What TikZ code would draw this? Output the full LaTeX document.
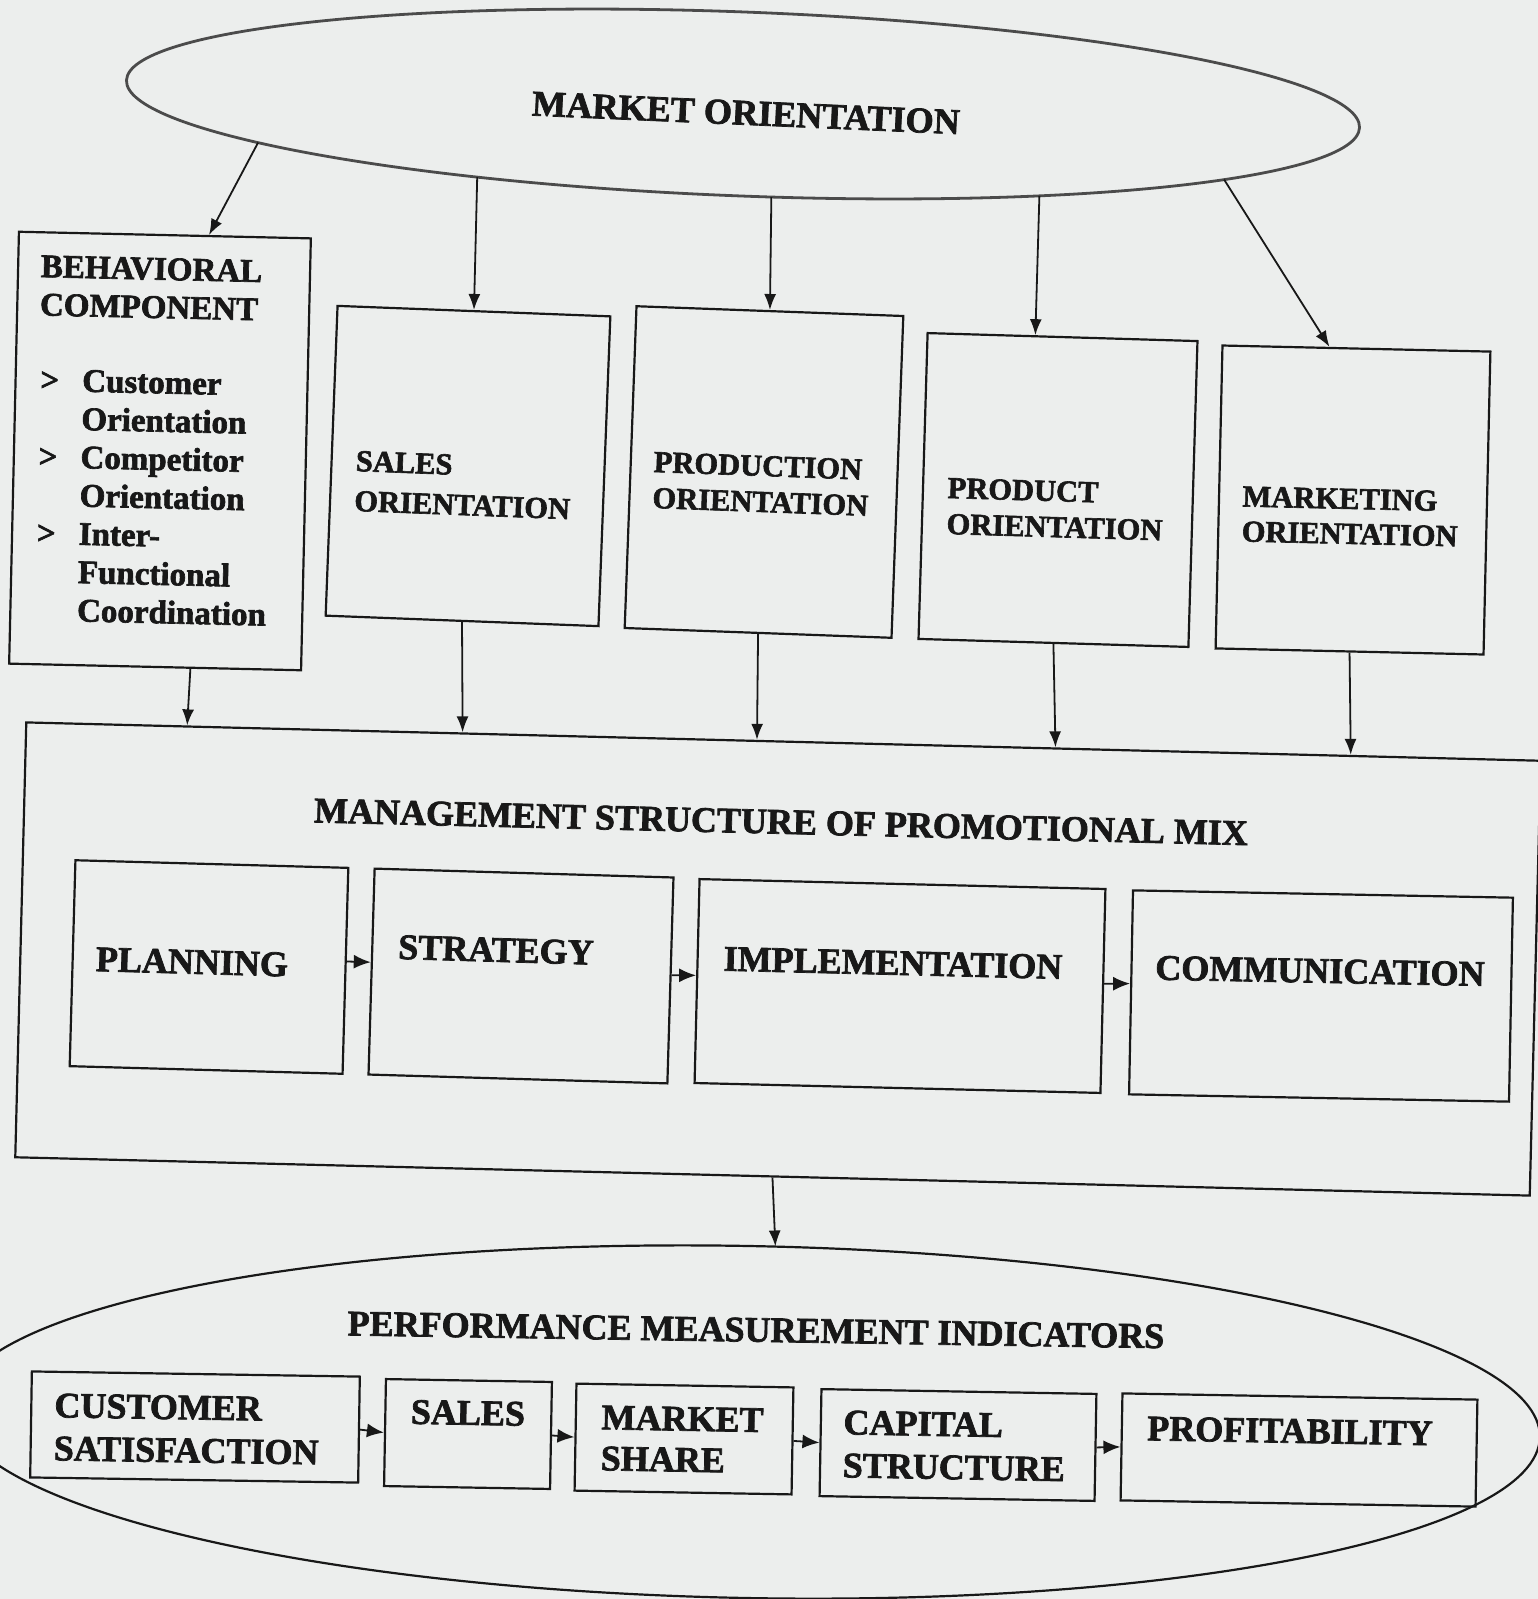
\documentclass[tikz,border=0pt]{standalone}
\usepackage{fontspec}
\setmainfont{Liberation Serif}[BoldFeatures={FakeBold=2}]
\usetikzlibrary{calc,arrows.meta,shapes.geometric}
\definecolor{paper}{RGB}{236,238,237}
\definecolor{ink}{RGB}{24,24,24}
\definecolor{ellcol}{RGB}{75,75,75}
\tikzset{
  box/.style={draw=ink, line width=2.2pt, rectangle, inner sep=0pt},
  oval/.style={draw=ellcol, ellipse, inner sep=0pt},
  lbl/.style={inner sep=0pt, text=ink, align=left},
  fA/.style={font=\fontsize{36.2}{42}\selectfont\bfseries},
  fB/.style={font=\fontsize{33}{38.3}\selectfont\bfseries},
  fC/.style={font=\fontsize{30.5}{#1}\selectfont\bfseries},
  fD/.style={font=\fontsize{36}{#1}\selectfont\bfseries},
  arr/.style={draw=ink, line width=1.8pt, -{Latex[length=16pt,width=12pt]}},
  sarr/.style={draw=ink, line width=1.8pt, -{Latex[length=17pt,width=14pt]}}
}
\newcommand{\bul}{\makebox[44pt][l]{\hspace*{2pt}>}}
\newcommand{\ind}{\hspace*{44pt}}
\begin{document}
\begin{tikzpicture}[x=1pt,y=-1pt]
\fill[paper] (0,0) rectangle (1538,1599);
\useasboundingbox (0,0) rectangle (1538,1599);

% ---------- top ellipse ----------
\node[oval, line width=2.8pt, minimum width=1234pt, minimum height=184pt, rotate=-2.2] (mo) at (743,104) {};
\node[lbl, fA, rotate=-2.5] (motext) at (746,113) {MARKET ORIENTATION};

% ---------- behavioral component ----------
\node[box, minimum width=292pt, minimum height=432pt, rotate=-1.3] (beh) at (160,451) {};
\node[lbl, fB, anchor=north west, rotate=-1.3] (behtext) at (41,255)
  {BEHAVIORAL\\COMPONENT\\[37pt]\bul Customer\\\ind Orientation\\\bul Competitor\\\ind Orientation\\\bul Inter-\\\ind Functional\\\ind Coordination};

% ---------- orientation boxes ----------
\node[box, minimum width=273pt, minimum height=310pt, rotate=-2.2] (sales) at (468,466) {};
\node[lbl, fC=40, anchor=west, rotate=-2.2] (salestext) at (355,481) {SALES\\ORIENTATION};

\node[box, minimum width=267pt, minimum height=322pt, rotate=-2.1] (prod) at (764,472) {};
\node[lbl, fC=36, anchor=west, rotate=-2.1] (prodtext) at (653,480) {PRODUCTION\\ORIENTATION};

\node[box, minimum width=270pt, minimum height=306pt, rotate=-1.7] (prodt) at (1058,490) {};
\node[lbl, fC=36, anchor=west, rotate=-1.7] (prodttext) at (947,506) {PRODUCT\\ORIENTATION};

\node[box, minimum width=268pt, minimum height=303pt, rotate=-1.3] (mkt) at (1353,500) {};
\node[lbl, fC=35, anchor=west, rotate=-1.3] (mkttext) at (1242,514) {MARKETING\\ORIENTATION};

% ---------- management structure ----------
\node[box, minimum width=1515pt, minimum height=435pt, rotate=-1.45] (mgmt) at (778,959) {};
\node[lbl, fD=43, rotate=-1.4] (mgmttext) at (781,822) {MANAGEMENT STRUCTURE OF PROMOTIONAL MIX};

\node[box, minimum width=273pt, minimum height=206pt, rotate=-1.6] (plan) at (209,967) {};
\node[lbl, fD=43, rotate=-1.6] (plantext) at (192,962) {PLANNING};
\node[box, minimum width=299pt, minimum height=206pt, rotate=-1.7] (strat) at (521,976) {};
\node[lbl, fD=43, rotate=-1.7] (strattext) at (496,950) {STRATEGY};
\node[box, minimum width=406pt, minimum height=204pt, rotate=-1.4] (impl) at (900,986) {};
\node[lbl, fD=43, rotate=-1.4] (impltext) at (893,963) {IMPLEMENTATION};
\node[box, minimum width=380pt, minimum height=204pt, rotate=-1.1] (comm) at (1321,996) {};
\node[lbl, fD=43, rotate=-1.1] (commtext) at (1320,971) {COMMUNICATION};

% ---------- performance ellipse ----------
\node[oval, draw=ink, line width=2.2pt, minimum width=1584pt, minimum height=352pt, rotate=-1.1] (perf) at (748,1422) {};
\node[lbl, fD=43, rotate=-0.9] (perftext) at (756,1330) {PERFORMANCE MEASUREMENT INDICATORS};

\node[box, minimum width=328pt, minimum height=106pt, rotate=-0.9] (cs) at (195,1427) {};
\node[lbl, fD=43, anchor=west, rotate=-0.9] (cstext) at (54,1427) {CUSTOMER\\SATISFACTION};
\node[box, minimum width=166pt, minimum height=107pt, rotate=-1] (psales) at (468,1434) {};
\node[lbl, fD=43, rotate=-1] (psalestext) at (468,1413) {SALES};
\node[box, minimum width=217pt, minimum height=107pt, rotate=-1] (ms) at (684,1439) {};
\node[lbl, fD=41, anchor=west, rotate=-1] (mstext) at (601,1438) {MARKET\\SHARE};
\node[box, minimum width=275pt, minimum height=107pt, rotate=-1] (cap) at (958,1445) {};
\node[lbl, fD=43, anchor=west, rotate=-1] (captext) at (843,1444) {CAPITAL\\STRUCTURE};
\node[box, minimum width=355pt, minimum height=107pt, rotate=-1] (prof) at (1299,1450) {};
\node[lbl, fD=43, rotate=-1] (proftext) at (1290,1431) {PROFITABILITY};

% ---------- connectors ----------
% start points on the lower border of the top ellipse (in its own rotated frame)
\coordinate (o1) at ($(mo.center)+(-2.2:-483.1pt)+(87.8:-57.2pt)$);
\coordinate (o2) at ($(mo.center)+(-2.2:-262.8pt)+(87.8:-83.2pt)$);
\coordinate (o3) at ($(mo.center)+(-2.2:31.9pt)+(87.8:-91.9pt)$);
\coordinate (o4) at ($(mo.center)+(-2.2:299.7pt)+(87.8:-80.4pt)$);
\coordinate (o5) at ($(mo.center)+(-2.2:483.7pt)+(87.8:-57.1pt)$);
\coordinate (behin) at ($(beh.north west)!0.65!(beh.north east)$);
\coordinate (prodtin) at ($(prodt.north west)!0.40!(prodt.north east)$);
\coordinate (mktin) at ($(mkt.north west)!0.40!(mkt.north east)$);
\draw[arr] (o1) -- (behin);
\draw[arr] (o2) -- (sales.north);
\draw[arr] (o3) -- (prod.north);
\draw[arr] (o4) -- (prodtin);
\draw[arr] (o5) -- (mktin);

\coordinate (behout) at ($(beh.south west)!0.62!(beh.south east)$);
\coordinate (m1) at ($(mgmt.north west)!0.1068!(mgmt.north east)$);
\coordinate (m2) at ($(mgmt.north west)!0.2884!(mgmt.north east)$);
\coordinate (m3) at ($(mgmt.north west)!0.4825!(mgmt.north east)$);
\coordinate (m4) at ($(mgmt.north west)!0.6793!(mgmt.north east)$);
\coordinate (m5) at ($(mgmt.north west)!0.8740!(mgmt.north east)$);
\draw[arr] (behout) -- (m1);
\draw[arr] (sales.south) -- (m2);
\draw[arr] (prod.south) -- (m3);
\draw[arr] (prodt.south) -- (m4);
\draw[arr] (mkt.south) -- (m5);

\coordinate (p1) at ($(plan.east)!0.09!(plan.north east)$);
\coordinate (s1) at ($(strat.west)!0.09!(strat.north west)$);
\coordinate (s2) at ($(strat.east)!0.05!(strat.north east)$);
\coordinate (i1) at ($(impl.west)!0.055!(impl.north west)$);
\coordinate (i2) at ($(impl.east)!0.07!(impl.north east)$);
\coordinate (c1) at ($(comm.west)!0.085!(comm.north west)$);
\draw[sarr] (p1) -- (s1);
\draw[sarr] (s2) -- (i1);
\draw[sarr] (i2) -- (c1);

\coordinate (pin) at ($(perf.center)+(-1.1:24pt)+(88.9:176pt)$);
\draw[arr] (mgmt.south) -- (pin);

\draw[sarr] (cs.east) -- (psales.west);
\draw[sarr] (psales.east) -- (ms.west);
\draw[sarr] (ms.east) -- (cap.west);
\draw[sarr] (cap.east) -- (prof.west);
\end{tikzpicture}
\end{document}
